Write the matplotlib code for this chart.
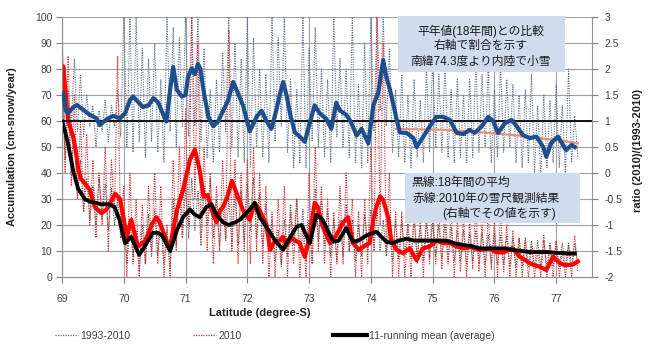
import numpy as np
import matplotlib
matplotlib.use("Agg")
import matplotlib.pyplot as plt
from matplotlib.lines import Line2D
from matplotlib.patches import Rectangle

plt.rcParams['font.family'] = ['Liberation Sans', 'Noto Sans CJK JP', 'DejaVu Sans']

# ---------------- data ----------------
# stake grid for raw (dotted) series, degrees S
raw_lat = np.round(np.arange(69.0, 77.351, 0.05), 2)

ratio_raw = [
    2.6, 0.6, 1.6, 0.9, 2.2, 0.8, 1.9, 0.7, 1.5, 0.9,
    1.3, 0.5, 1.2, 0.8, 1.4, 0.6, 1.3, 0.9, 1.6, 0.7,
    3.0, 0.5, 3.0, 0.4, 3.0, 0.6, 2.4, 0.3, 2.2, 0.6,
    2.5, 0.4, 1.8, 0.2, 3.0, 0.8, 2.8, 0.5, 2.6, 0.9,
    3.0, 0.7, 3.0, 0.9, 3.0, 0.6, 2.4, 0.3, 1.6, 0.2,
    1.8, 0.4, 2.3, 0.8, 3.0, 0.5, 2.5, 0.3, 2.2, 0.2,
    3.0, 0.1, 2.6, 0.5, 2.0, 0.3, 1.9, 0.2, 3.0, 0.6,
    2.6, 0.9, 3.0, 0.4, 1.8, 0.1, 1.6, 0.2, 3.0, 0.1,
    2.4, 0.6, 2.8, 0.5, 2.0, 0.3, 1.8, 0.2, 3.0, 0.7,
    2.2, 0.5, 2.0, 0.3, 3.0, 0.2, 1.7, 0.1, 2.5, 0.2,
    3.0, 0.8, 3.0, 1.2, 3.0, 0.9, 2.4, 0.4, 1.6, 0.3,
    1.9, 0.2, 1.5, 0.1, 1.8, 0.3, 1.4, 0.2, 2.0, 0.4,
    2.2, 0.5, 1.9, 0.4, 2.1, 0.3, 1.6, 0.2, 1.8, 0.3,
    1.5, 0.2, 1.8, 0.3, 2.2, 0.4, 1.9, 0.5, 2.0, 0.2,
    1.6, 0.3, 2.1, 0.4, 1.8, 0.5, 1.7, 0.2, 1.5, 0.1,
    1.6, 0.2, 1.9, 0.0, 1.3, -0.1, 1.5, 0.1, 1.4, 0.2,
    1.7, 0.1, 1.3, 0.0, 2.0, 0.2, 1.1, 0.3,
]

acc2010_raw = [
    100, 40, 85, 35, 70, 30, 60, 25, 55, 20,
    45, 15, 40, 20, 50, 10, 45, 25, 85, 15,
    35, 0, 40, 5, 30, 0, 28, 5, 35, 10,
    40, 5, 35, 0, 20, 0, 45, 10, 50, 15,
    65, 20, 100, 30, 90, 15, 50, 10, 40, 5,
    35, 10, 45, 15, 95, 10, 45, 5, 40, 10,
    45, 5, 50, 10, 40, 5, 35, 0, 25, 0,
    30, 5, 35, 0, 25, 5, 30, 0, 20, 0,
    40, 5, 50, 10, 35, 5, 30, 0, 25, 5,
    35, 5, 40, 10, 30, 0, 25, 0, 30, 5,
    50, 10, 100, 20, 90, 10, 40, 0, 25, 0,
    25, 0, 20, 0, 25, 5, 22, 0, 25, 5,
    28, 5, 25, 3, 30, 5, 25, 0, 22, 2,
    24, 0, 22, 3, 28, 2, 20, 0, 25, 3,
    22, 0, 25, 2, 20, 0, 18, 0, 15, 0,
    14, 0, 12, 0, 10, 0, 16, 0, 12, 0,
    14, 0, 10, 0, 12, 0, 16, 2,
]

accavg_raw = [
    75, 45, 65, 40, 55, 30, 45, 25, 38, 22,
    35, 20, 38, 22, 36, 18, 34, 20, 30, 15,
    25, 5, 22, 8, 18, 2, 20, 5, 24, 8,
    26, 8, 22, 5, 18, 3, 30, 12, 32, 15,
    35, 15, 38, 18, 33, 12, 35, 20, 38, 15,
    30, 12, 28, 14, 30, 12, 32, 12, 33, 14,
    36, 18, 38, 15, 32, 12, 28, 10, 22, 6,
    18, 4, 22, 8, 28, 12, 30, 10, 26, 6,
    22, 5, 34, 14, 30, 12, 26, 8, 22, 6,
    22, 8, 28, 10, 22, 6, 20, 8, 24, 10,
    26, 10, 25, 10, 22, 8, 20, 6, 22, 7,
    22, 8, 21, 7, 22, 8, 20, 6, 21, 7,
    21, 8, 20, 7, 20, 6, 19, 6, 18, 6,
    18, 5, 17, 6, 18, 5, 17, 5, 16, 5,
    17, 5, 16, 5, 16, 4, 15, 4, 15, 4,
    15, 4, 14, 4, 14, 4, 14, 3, 13, 4,
    14, 4, 13, 4, 13, 4, 13, 5,
]

# 11-point running mean, 1993-2010 average (black)
avg_lat = [69.0, 69.05, 69.1, 69.18, 69.26, 69.37, 69.45, 69.55, 69.63, 69.75, 69.85, 69.93,
           70.02, 70.12, 70.25, 70.37, 70.47, 70.55, 70.62, 70.75, 70.86, 70.96, 71.07, 71.15,
           71.23, 71.34, 71.42, 71.5, 71.61, 71.7, 71.8, 71.88, 71.96, 72.04, 72.12, 72.2,
           72.26, 72.37, 72.45, 72.58, 72.66, 72.8, 72.88, 73.01, 73.12, 73.22, 73.3, 73.39,
           73.48, 73.6, 73.71, 73.8, 73.93, 74.09, 74.25, 74.35, 74.45, 74.58, 74.7, 74.84,
           75.0, 75.22, 75.35, 75.49, 75.62, 75.76, 75.9, 76.03, 76.17, 76.3, 76.45, 76.57,
           76.7, 76.84, 77.0, 77.11, 77.2, 77.3]
avg_mean = [60, 56, 51, 41, 34, 30, 29, 28.5, 28, 28, 27, 22,
            13, 15.5, 8.5, 13, 17, 17, 16, 10, 18, 23, 26, 24,
            23, 27, 28, 24, 21, 20, 21, 22, 24, 26, 28.5, 23,
            21, 17, 14, 10.5, 14, 19.4, 20, 13, 24, 22, 18, 13.6,
            14, 18.8, 13.6, 14, 16, 17.4, 13.6, 13, 14, 14.7, 14, 14,
            14, 14, 13, 12.3, 12, 11, 11, 11, 11, 10.4, 10, 9.6,
            9.6, 9.6, 9.3, 9.2, 9, 9]

# 11-point running mean, 2010 (red)
y2010_lat = [69.0, 69.02, 69.1, 69.18, 69.22, 69.26, 69.3, 69.37, 69.45, 69.53, 69.64, 69.72,
             69.78, 69.86, 69.94, 70.05, 70.12, 70.23, 70.35, 70.46, 70.53, 70.59, 70.69, 70.75,
             70.86, 70.96, 71.07, 71.15, 71.23, 71.29, 71.36, 71.42, 71.5, 71.56, 71.61, 71.68,
             71.75, 71.83, 71.93, 72.04, 72.12, 72.2, 72.31, 72.37, 72.45, 72.53, 72.58, 72.63,
             72.72, 72.85, 72.93, 73.01, 73.09, 73.14, 73.22, 73.34, 73.44, 73.55, 73.63, 73.71,
             73.81, 73.9, 73.98, 74.04, 74.09, 74.15, 74.2, 74.28, 74.33, 74.42, 74.52, 74.63,
             74.74, 74.84, 74.95, 75.06, 75.17, 75.28, 75.39, 75.49, 75.62, 75.76, 75.93, 76.03,
             76.15, 76.3, 76.41, 76.5, 76.57, 76.65, 76.73, 76.84, 76.95, 77.06, 77.15, 77.27, 77.35]
y2010_mean = [70, 81, 60, 54, 49, 42, 38, 36, 33.5, 27, 24.5, 26,
              28.5, 32, 30, 15.5, 22, 11.7, 14, 20.5, 23, 20.5, 14, 11.7,
              25.7, 33.5, 45, 49, 41, 31, 31.5, 26, 21, 25.7, 27, 31,
              37, 32, 25.7, 22, 28.5, 25.7, 20, 10.4, 14, 14, 15.5, 12,
              15, 13, 7.8, 15.5, 28.5, 27, 19.4, 13, 16, 21, 23, 13,
              10.4, 12, 13, 22, 27, 31, 29.6, 23, 14, 10.4, 9.2, 11,
              6.5, 11, 11.7, 14, 13, 13, 11.7, 11, 11.5, 10.4, 11, 9.5,
              9.5, 11, 7.8, 6.5, 5.3, 4.5, 4, 2.7, 7.8, 5.3, 4.5, 4.8, 6]

# running-mean ratio 2010 / (1993-2010) (blue, right axis)
ratio_lat = [69.02, 69.06, 69.1, 69.17, 69.24, 69.35, 69.45, 69.56, 69.61, 69.72, 69.83, 69.94,
             70.02, 70.1, 70.15, 70.23, 70.31, 70.4, 70.48, 70.56, 70.64, 70.69, 70.75, 70.8,
             70.86, 70.94, 71.0, 71.04, 71.1, 71.15, 71.2, 71.24, 71.29, 71.37, 71.45, 71.53,
             71.61, 71.69, 71.77, 71.85, 71.93, 72.04, 72.15, 72.23, 72.31, 72.39, 72.47, 72.53,
             72.58, 72.64, 72.69, 72.77, 72.85, 72.93, 73.01, 73.09, 73.17, 73.28, 73.36, 73.44,
             73.5, 73.6, 73.67, 73.77, 73.85, 73.96, 74.04, 74.12, 74.2, 74.25, 74.31, 74.36,
             74.42, 74.47, 74.58, 74.69, 74.74, 74.85, 74.95, 75.06, 75.17, 75.28, 75.39, 75.5,
             75.6, 75.68, 75.79, 75.9, 75.98, 76.06, 76.17, 76.28, 76.36, 76.46, 76.57, 76.68,
             76.79, 76.84, 76.92, 77.03, 77.11, 77.16, 77.25, 77.3]
ratio_mean = [1.53, 1.2, 1.15, 1.25, 1.31, 1.21, 1.12, 1.05, 0.92, 1.03, 1.1, 1.05,
              1.15, 1.4, 1.47, 1.37, 1.27, 1.3, 1.44, 1.35, 1.12, 0.99, 1.6, 2.04,
              1.6, 1.47, 1.5, 1.85, 2.01, 1.9, 2.1, 2.0, 1.6, 1.08, 0.9, 1.0,
              1.2, 1.4, 1.75, 1.53, 1.3, 0.8, 1.08, 1.2, 1.0, 0.85, 1.21, 1.53,
              1.75, 1.47, 1.15, 0.78, 0.7, 0.6, 0.96, 1.3, 1.15, 1.04, 0.85, 1.35,
              1.2, 1.12, 1.0, 0.72, 0.85, 0.57, 1.3, 1.55, 2.17, 1.85, 1.6, 1.34,
              1.02, 0.78, 0.77, 0.67, 0.5, 0.7, 0.89, 1.08, 1.08, 1.02, 0.77, 0.75,
              0.83, 0.77, 0.89, 1.08, 1.0, 0.77, 0.96, 1.02, 0.9, 0.73, 0.67, 0.7,
              0.5, 0.31, 0.58, 0.7, 0.54, 0.44, 0.54, 0.5]

# faint trend of the ratio (salmon)
trend_lat = [74.4, 74.8, 75.2, 75.6, 76.0, 76.4, 76.8, 77.1, 77.35]
trend_ratio = [0.85, 0.84, 0.83, 0.8, 0.76, 0.72, 0.66, 0.62, 0.57]

x_ticks = [69, 70, 71, 72, 73, 74, 75, 76, 77]
left_ticks = list(range(0, 101, 10))
right_ticks = [-2, -1.5, -1, -0.5, 0, 0.5, 1, 1.5, 2, 2.5, 3]

box1_lines = ["平年値(18年間)との比較", "右軸で割合を示す", "南緯74.3度より内陸で小雪"]
box2_lines = ["黒線:18年間の平均", "赤線:2010年の雪尺観測結果", "(右軸でその値を示す)"]

# ---------------- figure ----------------
fig = plt.figure(figsize=(6.53, 3.56), dpi=100, facecolor='white')
L, R, B, T = 62/653, 592/653, 1-277/356, 1-17/356
ax_raw = fig.add_axes([L, B, R-L, T-B])      # ratio raw (bottom layer)
ax = fig.add_axes([L, B, R-L, T-B])          # accumulation
ax2 = fig.add_axes([L, B, R-L, T-B])         # ratio smoothed + annotations
ax_raw.set_zorder(1); ax.set_zorder(2); ax2.set_zorder(3)
ax.patch.set_visible(False); ax2.patch.set_visible(False)
ax_raw.patch.set_facecolor('white')

xlim = (69, 77.58)
for a in (ax_raw, ax, ax2):
    a.set_xlim(*xlim)
ax.set_ylim(0, 100)
ax_raw.set_ylim(-2, 3)
ax2.set_ylim(-2, 3)

# grid on bottom layer (accumulation scale mapped via same geometry)
ax_raw.set_yticks(right_ticks)
ax_raw.set_xticks(x_ticks)
ax_raw.grid(True, color='#a0a0a0', lw=0.8)
ax_raw.tick_params(left=False, bottom=False, labelleft=False, labelbottom=False)
for s in ax_raw.spines.values():
    s.set_visible(False)

grey_text = '#404040'
tick_fs = 7.5

# raw ratio (dotted)
ax_raw.plot(raw_lat, ratio_raw, color='#5d7290', lw=0.8, ls=(0, (1, 1.2)))

# accumulation axis
ax.plot(raw_lat, accavg_raw, color='#505050', lw=0.8, ls=(0, (1, 1.2)))
ax.plot(raw_lat, acc2010_raw, color='#e02a2a', lw=0.8, ls=(0, (1, 1.2)))
ax.plot(y2010_lat, y2010_mean, color='#ff0000', lw=3.0, solid_joinstyle='round')
ax.plot(avg_lat, avg_mean, color='black', lw=2.8, solid_joinstyle='round')
ax.set_yticks(left_ticks)
ax.set_xticks(x_ticks)
ax.set_xticklabels([str(v) for v in x_ticks])
ax.tick_params(axis='both', labelsize=tick_fs, colors='#808080', labelcolor=grey_text,
               length=4, width=0.8)
ax.tick_params(axis='x', pad=8)
ax.tick_params(axis='y', pad=3)
for side in ('top', 'right'):
    ax.spines[side].set_visible(False)
for side in ('left', 'bottom'):
    ax.spines[side].set_color('#909090')

# ratio axis
ax2.axhline(1, color='black', lw=1.3, zorder=2)
ax2.plot(trend_lat, trend_ratio, color='#e8907a', lw=1.6, zorder=3)
ax2.plot(ratio_lat, ratio_mean, color='#1f4e8c', lw=3.0, zorder=4, solid_joinstyle='round')
ax2.set_yticks(right_ticks)
ax2.set_yticklabels([('%g' % v) for v in right_ticks])
ax2.yaxis.tick_right()
ax2.tick_params(axis='y', labelsize=tick_fs, colors='#808080', labelcolor=grey_text,
                length=4, width=0.8, pad=5)
ax2.tick_params(axis='x', bottom=False, labelbottom=False)
for side in ('top', 'left', 'bottom'):
    ax2.spines[side].set_visible(False)
ax2.spines['right'].set_color('#909090')

# annotation boxes
box_color = '#cfdcee'
ax2.add_patch(Rectangle((0.634, 0.788), 0.315, 0.215, transform=ax2.transAxes,
                        facecolor=box_color, edgecolor='none', zorder=8, clip_on=False))
for txt, yy in zip(box1_lines, [0.945, 0.887, 0.826]):
    ax2.text(0.79, yy, txt, transform=ax2.transAxes, ha='center', va='center',
             fontsize=8.5, color='#1a1a1a', zorder=9)
ax2.add_patch(Rectangle((0.647, 0.208), 0.33, 0.192, transform=ax2.transAxes,
                        facecolor=box_color, edgecolor='none', zorder=8))
for txt, xx, yy in zip(box2_lines, [0.66, 0.662, 0.718], [0.362, 0.302, 0.245]):
    ax2.text(xx, yy, txt, transform=ax2.transAxes, ha='left', va='center',
             fontsize=8.5, color='#1a1a1a', zorder=9)

# axis titles
fig.text(12/653, 1-147/356, 'Accumulation (cm-snow/year)', rotation=90, ha='center',
         va='center', fontsize=8, fontweight='bold', color='#222222')
fig.text(638/653, 1-150/356, 'ratio (2010)/(1993-2010)', rotation=90, ha='center',
         va='center', fontsize=8, fontweight='bold', color='#222222')
fig.text(260/653, 1-313/356, 'Latitude (degree-S)', ha='center', va='center',
         fontsize=8, fontweight='bold', color='#222222')

# legend (three separate entries)
entries = [
    (Line2D([], [], color='#5d7290', lw=0.9, ls=(0, (1, 1))), '1993-2010', 55, 2.2),
    (Line2D([], [], color='#e02a2a', lw=0.9, ls=(0, (1, 1))), '2010', 193, 2.2),
    (Line2D([], [], color='black', lw=3), '11-running mean (average)', 333, 3.3),
]
for h, lab, xpix, hl in entries:
    fig.legend([h], [lab], loc='center left', bbox_to_anchor=(xpix/653, 1-336/356),
               frameon=False, fontsize=7.5, handlelength=hl, handletextpad=0.2,
               borderpad=0, borderaxespad=0, labelcolor=grey_text)

fig.savefig('out.png', dpi=100, facecolor='white')
